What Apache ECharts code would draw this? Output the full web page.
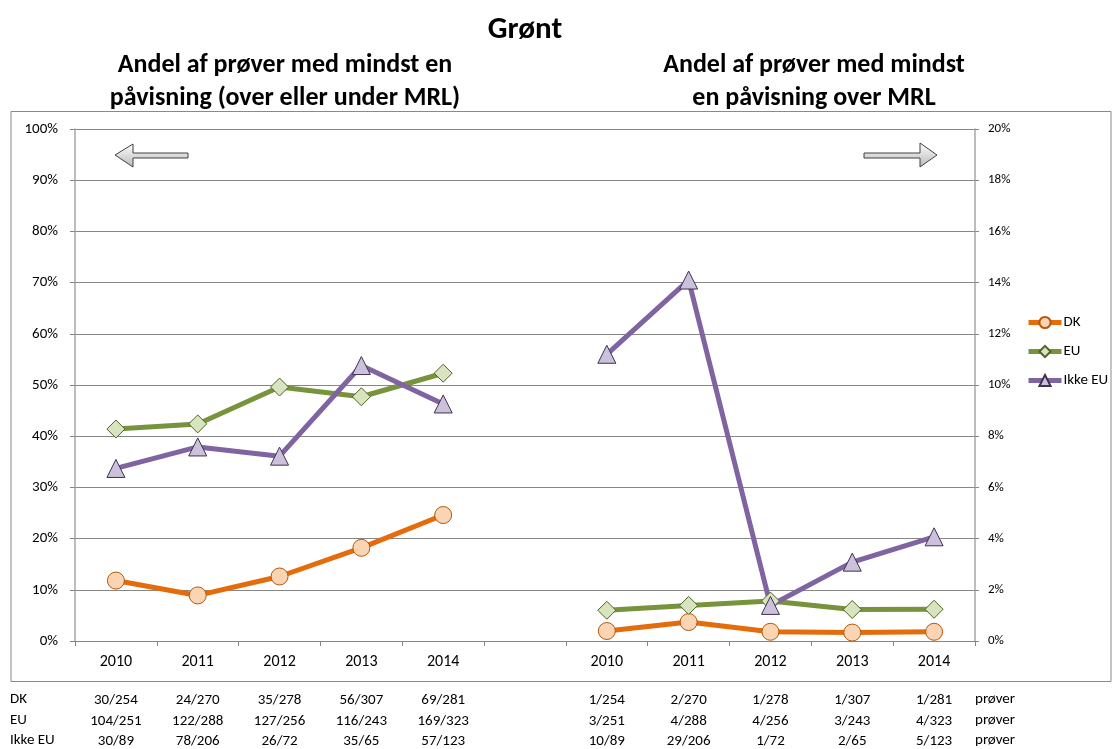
<!DOCTYPE html>
<html>
<head>
<meta charset="utf-8">
<script src="https://cdn.jsdelivr.net/npm/echarts@6/dist/echarts.min.js"></script>
<style>
html,body{margin:0;padding:0;background:#fff}
#main{width:1112px;height:749px}
</style>
</head>
<body>
<div id="main"></div>
<script>
// kategorier: to grupper af år med en tom plads imellem
let years=['2010','2011','2012','2013','2014','','2010','2011','2012','2013','2014'];

// venstre akse: andel med mindst en påvisning (%)
let dkAll=[11.8,8.9,12.6,18.2,24.6];
let euAll=[41.4,42.4,49.6,47.7,52.3];
let ikkeEuAll=[33.7,37.9,36.1,53.8,46.3];

// højre akse: andel med påvisning over MRL (%)
let dkMrl=[0.39,0.74,0.36,0.33,0.36];
let euMrl=[1.20,1.39,1.56,1.23,1.24];
let ikkeEuMrl=[11.2,14.1,1.39,3.08,4.07];

// antal prøver under grafen
let dkCount=['30/254','24/270','35/278','56/307','69/281','','1/254','2/270','1/278','1/307','1/281'];
let euCount=['104/251','122/288','127/256','116/243','169/323','','3/251','4/288','4/256','3/243','4/323'];
let ikkeEuCount=['30/89','78/206','26/72','35/65','57/123','','10/89','29/206','1/72','2/65','5/123'];
let rowNames=['DK','EU','Ikke EU'];

let font='Carlito, Lato, sans-serif';

let styles={
    'DK':{line:'#E46C0A',fill:'#FBD4B4',border:'#B65708',symbol:'circle',size:17},
    'EU':{line:'#77933C',fill:'#D7E4BD',border:'#4F6228',symbol:'diamond',size:18},
    'Ikke EU':{line:'#8064A2',fill:'#CCC1DA',border:'#3F3151',symbol:'triangle',size:18}
};

function makeSeries(name,data,axis){
    let s=styles[name];
    return {
        name:name,
        type:'line',
        yAxisIndex:axis,
        data:axis===0?data:['-','-','-','-','-','-'].concat(data),
        symbol:s.symbol,
        symbolSize:s.size,
        z:axis===0?2:3,
        lineStyle:{color:s.line,width:5},
        itemStyle:{color:s.fill,borderColor:s.border,borderWidth:1},
        emphasis:{disabled:true}
    };
}

function countAxis(rows,offset){
    return {
        type:'category',
        data:rows,
        position:'bottom',
        offset:offset,
        axisLine:{show:false},
        axisTick:{show:false},
        axisLabel:{interval:0,margin:0,color:'#000',fontSize:15,fontFamily:font}
    };
}

let arrowFill=new echarts.graphic.LinearGradient(0,0,0,1,[
    {offset:0,color:'#ffffff'},
    {offset:1,color:'#b8b8b8'}
]);

let chart=echarts.init(document.getElementById('main'));
chart.setOption({
    animation:false,
    backgroundColor:'#fff',
    textStyle:{fontFamily:font},
    title:[
        {text:'Grønt',left:520,top:10,textAlign:'center',
            textStyle:{fontSize:31,fontWeight:'bold',color:'#000',fontFamily:font}},
        {text:'Andel af prøver med mindst en\npåvisning (over eller under MRL)',left:280,top:44,textAlign:'center',
            textStyle:{fontSize:26,fontWeight:'bold',color:'#000',lineHeight:33,fontFamily:font}},
        {text:'Andel af prøver med mindst\nen påvisning over MRL',left:809,top:44,textAlign:'center',
            textStyle:{fontSize:26,fontWeight:'bold',color:'#000',lineHeight:33,fontFamily:font}}
    ],
    legend:{
        orient:'vertical',
        left:1021,
        top:310,
        itemWidth:33,
        itemHeight:14,
        itemGap:14,
        lineStyle:{width:5},
        textStyle:{fontSize:15,color:'#000',fontFamily:font,padding:[0,0,0,-3]},
        data:['DK','EU','Ikke EU']
    },
    grid:{left:75,right:137,top:129,bottom:108,containLabel:false},
    xAxis:[
        {
            type:'category',
            data:years,
            axisLine:{lineStyle:{color:'#868686'}},
            axisTick:{show:true,length:5,lineStyle:{color:'#868686'}},
            axisLabel:{interval:0,margin:13,color:'#000',fontSize:16,fontFamily:font}
        },
        countAxis(dkCount,52),
        countAxis(euCount,73),
        countAxis(ikkeEuCount,93)
    ],
    yAxis:[
        {
            type:'value',min:0,max:100,interval:10,
            axisLine:{show:true,lineStyle:{color:'#a6a6a6',width:1.5}},
            axisTick:{show:true,length:5,lineStyle:{color:'#868686'}},
            splitLine:{lineStyle:{color:'#868686'}},
            axisLabel:{formatter:'{value}%',margin:17,color:'#000',fontSize:15,fontFamily:font}
        },
        {
            type:'value',min:0,max:20,interval:2,position:'right',
            axisLine:{show:true,lineStyle:{color:'#a6a6a6',width:1.5}},
            axisTick:{show:true,length:4,lineStyle:{color:'#868686'}},
            splitLine:{show:false},
            axisLabel:{formatter:'{value}%',margin:13,color:'#000',fontSize:13,fontFamily:font}
        }
    ],
    series:[
        makeSeries('DK',dkAll,0),
        makeSeries('EU',euAll,0),
        makeSeries('Ikke EU',ikkeEuAll,0),
        makeSeries('DK',dkMrl,1),
        makeSeries('EU',euMrl,1),
        makeSeries('Ikke EU',ikkeEuMrl,1)
    ],
    graphic:[
        // ramme om grafen
        {type:'rect',shape:{x:11,y:111.5,width:1100,height:570},silent:true,z:-1,
            style:{fill:null,stroke:'#898989',lineWidth:1}},
        // pile der viser hvilken akse der gælder
        {type:'polygon',z:10,shape:{points:[[115,155],[133,144],[133,153],[188,153],[188,158],[133,158],[133,167]]},
            style:{fill:arrowFill,stroke:'#404040',lineWidth:1}},
        {type:'polygon',z:10,shape:{points:[[937,155],[920,143],[920,153],[864,153],[864,158],[920,158],[920,167]]},
            style:{fill:arrowFill,stroke:'#404040',lineWidth:1}},
        {type:'text',left:10,top:692,style:{text:rowNames[0],fontSize:15,fill:'#000',fontFamily:font}},
        {type:'text',left:10,top:713,style:{text:rowNames[1],fontSize:15,fill:'#000',fontFamily:font}},
        {type:'text',left:10,top:733,style:{text:rowNames[2],fontSize:15,fill:'#000',fontFamily:font}},
        {type:'text',left:975,top:692,style:{text:'prøver',fontSize:15,fill:'#000',fontFamily:font}},
        {type:'text',left:975,top:713,style:{text:'prøver',fontSize:15,fill:'#000',fontFamily:font}},
        {type:'text',left:975,top:733,style:{text:'prøver',fontSize:15,fill:'#000',fontFamily:font}}
    ]
});
</script>
</body>
</html>
